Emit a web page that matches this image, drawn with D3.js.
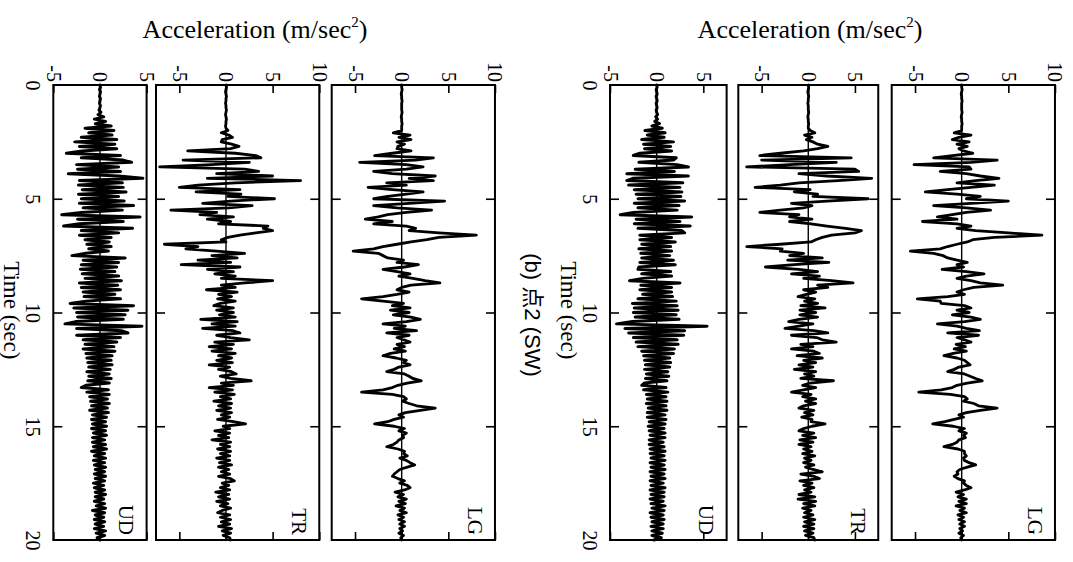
<!DOCTYPE html>
<html><head><meta charset="utf-8">
<script src="https://cdn.jsdelivr.net/npm/d3@7"></script>
<style>body{margin:0;background:#fff}</style>
</head><body>
<svg id="chart" width="1073" height="562"></svg>
<script>
// ---------- data ----------
const components = ["UD", "TR", "LG"];
const timeTickValues = [0, 5, 10, 15, 20];
const timeInnerTicks = [5, 10, 15];
const accTickValues = [-5, 0, 5, 10];
const sampleStep = 0.1; // s
const domainsLeft = [[-5, 5], [-7.5, 10], [-7.5, 10]];
const domainsRight = [[-5, 7.5], [-7.5, 7.5], [-7.5, 10]];
const accTitle = "Acceleration (m/sec";
const timeTitle = "Time (sec)";
const caption = "(b) 点2 (SW)";

const leftUD = [0,0.05,-0.05,0.05,0,-0.05,0.05,0,-0.05,0.05,
0,-0.1,0.1,-0.2,0.4,-0.6,0.6,-0.5,1.2,-1.6,
1.5,-1.2,1.3,-2.0,1.8,-2.7,1.6,-2.2,1.8,-1.9,
-3.6,2.2,-2.0,2.5,3.4,-2.5,2.0,-2.4,2.2,-3.4,
2.0,4.6,-2.2,2.4,-2.3,2.5,-1.9,2.8,-2.3,2.0,
-2.0,2.6,-2.2,3.6,-1.8,2.4,-2.0,-4.1,4.3,-2.4,
2.5,-2.2,-3.9,3.5,-2.0,2.0,-2.2,1.2,-1.6,1.0,
-1.4,1.2,-1.2,0.9,-1.5,-3.0,2.7,-1.8,2.0,-2.0,
1.8,-2.1,1.6,-1.9,2.0,-1.6,2.3,-2.2,1.9,-2.0,
2.2,-1.8,1.6,-1.7,2.2,-1.5,-3.2,3.6,-2.8,3.0,
-2.5,2.7,-2.4,2.5,-2.6,-3.75,4.5,-2.5,2.3,3.0,
-2.5,2.2,-1.8,1.8,-1.6,1.5,-1.8,1.6,-1.5,1.3,
-1.4,1.2,-1.3,1.3,-1.2,1.1,-1.4,1.0,-1.2,1.2,
-1.3,1.0,-1.5,-2.0,0.9,-1.4,1.0,-1.1,0.8,-1.0,
1.0,-0.9,0.8,-1.1,0.9,-0.8,0.7,-0.9,0.6,-0.8,
0.7,-0.9,0.6,-0.7,0.7,-0.8,0.5,-0.8,0.6,-0.7,
0.7,-0.9,0.5,-0.6,0.6,-0.7,0.5,-0.6,0.6,-0.5,
0.5,-0.6,0.6,-0.5,0.5,-0.7,0.4,-0.6,0.5,-0.5,
0.6,-0.5,0.4,-0.6,0.5,-0.4,0.6,-0.8,0.5,-0.5,
0.4,-0.6,0.5,-0.5,0.4,-0.6,0.6,-0.4,0.5,-0.3,
0];

const leftTR = [0,0.05,0,-0.05,0,0.05,0,0,-0.05,0,
0,0.05,0,-0.05,0,0.05,0,0,-0.05,0,
0.2,-0.5,0.3,0.7,-0.4,-0.5,0.6,1.4,0.5,-4.1,
1.0,3.2,3.75,-4.6,2.5,-1.5,-7.1,2.0,3.5,-1.0,
5.0,-2.0,8.0,1.0,-3.0,-5.0,1.5,-3.2,1.6,0.2,
5.2,0.5,-2.5,2.8,0.3,-5.9,-1.0,-2.8,0.8,-2.0,
0.5,-0.8,4.5,4.0,5.0,3.2,1.5,0.2,-0.5,0,
-6.6,-3.0,-4.3,-1.0,2.0,-1.5,1.2,-3.0,0.5,-4.8,
1.5,-2.0,0.8,-1.2,1.0,-0.5,5.0,2.0,-0.5,1.0,
-2.1,1.2,-0.8,0.6,-0.9,1.0,-0.6,-1.3,0.8,-1.0,
0.8,-0.7,1.0,-2.7,1.2,-1.5,1.0,-2.5,0.8,1.5,
-1.0,0.5,2.5,-1.2,0.8,-1.8,0.6,-1.5,1.0,-0.8,
0.6,-1.0,0.7,-1.8,0.4,-0.8,0.6,1.1,-0.6,0.5,
2.7,-0.5,0.8,-1.8,0.7,-1.2,0.9,-0.6,0.5,-1.3,
0.6,-0.8,0.5,-1.0,0.6,-0.5,0.4,-0.9,0.8,2.1,
-0.3,0.4,-1.2,0.4,-0.8,0.3,-1.5,0.5,-0.6,0.4,
-0.9,0.5,-0.6,0.4,-1.0,0.4,-0.7,0.6,-0.8,0.3,
-0.5,0.4,-0.8,0.5,0.9,-0.4,0.3,-0.6,0.4,-1.1,
0.3,-0.8,0.4,-1.0,0.2,-0.6,0.5,-0.4,-0.9,0.4,
-0.6,0.5,-0.5,0.4,-0.8,0.6,-0.4,0.5,-0.3,0.4,
0.5];

const leftLG = [0,0,0.05,0,-0.05,0,0,0.05,0,0,
0,0,0.05,0,-0.05,0,0,0.05,0,0,
0,-0.9,0.9,-0.3,1.0,-0.5,0.3,-0.4,-0.5,1.0,
-1.0,-2.9,3.4,1.5,-4.5,0.5,2.3,0.5,-3.0,-1.0,
3.6,0.8,3.4,-1.6,0.5,-3.6,-1.0,2.3,0.5,-1.5,
-3.0,4.6,0.8,-3.0,-0.5,3.2,0.5,-1.5,-2.5,-3.9,
-1.0,-3.0,0.5,1.5,0.8,4.0,8.0,4.0,2.7,1.0,
-0.5,-2.0,-3.0,-5.2,-2.5,-2.0,-1.5,0.2,-0.5,1.8,
0.3,-2.0,-0.5,0.9,-0.3,1.2,2.5,4.1,1.0,0,
-0.5,0.8,-0.5,-2.0,-4.3,-2.0,0.2,-1.0,0.9,-1.2,
0.8,-0.9,1.0,2.0,0.5,-2.0,0.4,-0.8,1.6,-1.6,
0.8,-0.5,0.2,0.9,-0.5,0.3,-0.8,0.4,-1.2,-2.0,
-0.6,0.5,0.2,0.9,-0.3,-0.8,-1.6,0.3,0.8,1.2,
2.1,0.6,-0.4,-1.0,-2.0,-4.3,-1.0,0.2,0.5,0.1,
0.8,1.6,3.6,2.0,0.4,-0.3,0.2,-0.8,-1.5,-2.9,
-0.8,0.3,-0.3,0.5,0.1,0.2,-0.3,-0.5,-0.9,-1.6,
-0.4,0.3,0.2,0.6,-0.2,0.5,0.9,1.4,0.6,-0.2,
-0.5,-0.8,-1.0,-0.4,0.3,-0.2,0.6,0.9,0.3,-0.7,
0.2,-0.4,0.5,-0.3,0.4,-0.6,0.3,-0.2,0.5,-0.4,
0.2,-0.3,0.3,-0.2,0.3,-0.2,0.1,-0.3,0.2,-0.1,
0];

const rightUD = [0,0.05,-0.05,0,0.05,-0.05,0,0.05,-0.05,0,
0.05,-0.05,0,0.1,-0.1,0.1,-0.2,0.3,-0.5,0.6,
-1.25,0.9,-1.0,0.8,-1.6,1.8,-1.4,1.5,-1.3,1.6,
-1.8,-2.5,2.1,1.8,-1.9,2.2,3.4,-2.3,1.9,-3.2,
3.4,-2.5,-3.2,2.8,-3.0,2.5,-2.4,2.7,-2.2,2.6,
-2.0,3.0,-2.4,2.4,-2.0,2.2,-2.5,-3.9,3.75,-2.2,
2.5,-2.4,3.6,-2.0,2.7,3.0,-1.8,1.6,-1.8,2.0,
-1.6,1.5,-1.9,1.6,-1.7,1.4,-1.6,1.8,-1.8,2.0,
-1.9,-2.0,1.5,-1.6,1.6,-1.5,-2.9,2.5,-1.7,1.6,
-1.8,1.6,-1.5,1.7,-2.0,2.1,-2.6,2.2,-2.4,2.3,
-2.5,2.1,-2.3,2.4,-2.6,-4.3,5.4,-3.4,3.0,-3.0,
2.9,-2.5,2.2,-2.2,2.3,-2.0,1.9,-1.6,1.8,-1.4,
1.4,-1.3,1.5,-1.2,1.4,-1.3,1.2,-1.1,1.3,-1.2,
1.1,-1.3,-1.6,1.0,-1.4,1.2,-1.1,1.0,-1.0,1.1,
-1.1,1.0,-0.9,1.1,-1.0,0.9,-1.0,1.0,-0.8,0.9,
-0.9,0.8,-0.8,0.9,-0.7,0.9,-0.8,0.7,-0.8,0.8,
-0.7,0.9,-0.7,0.8,-0.6,0.9,-0.7,0.8,-0.6,0.9,
-0.7,0.8,-0.6,0.9,-0.7,0.7,-0.6,0.9,-0.7,0.8,
-0.6,0.8,-0.7,0.7,-0.6,0.9,-0.5,0.8,-0.7,0.7,
-0.6,0.8,-0.5,0.7,-0.6,0.7,-0.5,0.6,-0.5,0.5,
-0.3];

const rightTR = [0,0.05,0,-0.05,0,0.05,0,0,-0.05,0,
0,0,0.05,0,-0.05,0,0,0.05,0,0,
0.2,0.7,-0.4,0.4,-0.2,0.5,1.0,2.1,1.0,-0.5,
-3.0,-5.2,4.6,-5.0,3.0,-2.0,-6.6,5.0,5.4,-1.0,
2.0,6.8,3.2,-1.0,-3.0,-5.7,0.2,-1.5,1.0,0.5,
6.4,2.0,-1.8,0.4,-0.5,-3.0,-5.2,-1.0,-2.0,0.4,
-2.0,0.3,2.0,4.0,5.7,5.0,2.5,1.5,0.8,0.3,
-3.0,-6.6,-2.8,-3.0,-0.5,-2.0,1.5,-2.2,2.2,-1.5,
-4.6,-1.0,1.0,-1.8,1.2,-0.5,2.5,4.8,1.0,2.1,
-0.5,0.8,-0.2,-1.1,0.7,-0.4,1.0,-0.8,1.8,-0.9,
0.8,-0.9,1.0,-1.0,-2.1,0.5,-1.0,-2.5,0.6,2.1,
-1.8,0.9,1.5,3.0,-0.8,0.5,-1.8,0.6,1.2,-1.2,
1.5,-0.5,0.8,-1.0,0.5,-1.5,0.8,-0.4,0.6,-0.8,
2.7,0.2,-0.6,0.8,-0.5,-1.8,0.3,-0.6,0.8,-0.3,
0.8,-0.5,-1.0,0.6,-0.4,0.5,-0.7,0.4,0.3,1.8,
0.4,-0.5,-1.0,0.6,-0.6,0.8,-0.9,0.5,-1.0,0.3,
-0.5,0.4,-0.6,0.7,-0.4,0.3,-0.5,0.6,-0.3,0.5,
1.5,-0.8,0.6,1.2,-0.9,0.4,-0.5,0.6,-0.4,0.3,
-1.0,0.7,-1.1,0.8,-0.5,0.7,-0.6,0.3,-0.4,0.5,
-0.5,0.7,-0.4,0.6,-0.5,0.6,-0.4,0.5,-0.3,0.6,
0.7];

const rightLG = [0,0,0.05,0,-0.05,0,0,0.05,0,0,
0,0,0.05,0,-0.05,0,0,0.05,0,0,
0,-0.8,1.0,-0.3,-1.0,0.8,-0.5,0.6,-0.3,0.2,
1.2,-1.0,-3.0,3.8,1.0,-5.1,0.8,1.0,-2.3,0.5,
2.0,4.0,1.5,-0.5,3.5,1.0,-1.5,-3.9,-0.5,2.0,
0.5,5.0,1.0,-3.0,0.5,3.1,0.5,-1.0,-2.6,-0.5,
-4.2,-0.5,1.0,-0.5,1.5,5.0,8.6,3.5,1.2,0.6,
-0.5,-1.5,-2.3,-5.5,-3.0,-2.0,-1.5,-0.5,0.6,-0.5,
0.2,-2.1,0.5,2.4,0.5,-0.5,1.0,2.0,4.4,1.3,
0.2,-0.5,0.3,-1.5,-4.75,-2.3,-2.2,0.3,1.0,-0.5,
0.8,-1.0,1.0,2.0,0.3,-2.6,-0.5,0.5,1.9,-1.5,
1.8,-0.5,0.3,1.0,-0.6,0.4,-0.8,0.5,-0.9,-1.9,
-0.5,0.3,0.6,0.9,-0.3,-0.8,-1.5,0.3,0.9,1.5,
2.2,0.6,-0.5,-1.0,-2.2,-4.6,-1.2,0.3,0.6,0.2,
1.3,1.8,3.8,2.0,0.5,-0.3,0.2,-0.8,-1.8,-3.1,
-0.9,0.3,-0.3,0.5,0.2,0.4,-0.3,-0.5,-1.0,-1.9,
-0.4,0.3,0.3,0.5,0.2,0.3,0.8,1.5,0.6,-0.2,
-0.5,-0.4,-0.8,-0.4,0.3,0.2,0.5,1.0,0.3,-0.6,
0.2,-0.4,0.5,-0.3,0.5,-0.6,0.3,-0.2,0.5,-0.4,
0.2,-0.3,0.3,-0.2,0.3,-0.2,0.1,-0.3,0.2,-0.1,
0];

// ---------- layout ----------
(function () {
const svg = d3.select("#chart");
const pxPerUnit = 9.33;
const topY = 85, bottomY = 540;
const serif = "'Liberation Serif','Times New Roman',serif";
const yScale = d3.scaleLinear().domain([0, 20]).range([topY, bottomY]);
const plainFmt = d => String(d);

const groups = [
  { lefts: [53.3, 156, 331.7], domains: domainsLeft, series: [leftUD, leftTR, leftLG], titleX: 255 },
  { lefts: [610, 738.3, 891.7], domains: domainsRight, series: [rightUD, rightTR, rightLG], titleX: 810 }
];

function rotateLabels(sel, anchor, dx, dyPx) {
  sel.selectAll("text")
    .attr("x", null).attr("y", null).attr("dy", null)
    .attr("transform", `translate(${dx},${dyPx}) rotate(90)`)
    .attr("text-anchor", anchor)
    .attr("dy", "0.35em")
    .attr("fill", "#000")
    .style("font-family", serif);
}

groups.forEach(g => {
  const t = svg.append("text").attr("x", g.titleX).attr("y", 38)
    .attr("text-anchor", "middle").style("font-family", serif).style("font-size", "26px")
    .text(accTitle);
  t.append("tspan").attr("dy", -11).style("font-size", "15px").text("2");
  t.append("tspan").attr("dy", 11).text(")");

  g.domains.forEach((dom, i) => {
    const L = g.lefts[i];
    const R = L + (dom[1] - dom[0]) * pxPerUnit;
    const x = d3.scaleLinear().domain(dom).range([L, R]);
    const ticks = accTickValues.filter(v => v >= dom[0] - 1e-6 && v <= dom[1] + 1e-6);
    const data = g.series[i].map((v, k) => ({ t: k * sampleStep, v }));
    const p = svg.append("g");

    p.append("line").attr("x1", x(0)).attr("x2", x(0)).attr("y1", topY).attr("y2", bottomY)
      .attr("stroke", "#000").attr("stroke-width", 1.4);

    p.append("path").datum(data)
      .attr("d", d3.line().x(d => x(d.v)).y(d => yScale(d.t)))
      .attr("fill", "none").attr("stroke", "#000").attr("stroke-width", i === 0 ? 3.0 : 2.8)
      .attr("stroke-linejoin", "round").attr("stroke-linecap", "round");

    const ax = p.append("g").attr("transform", `translate(0,${topY})`)
      .call(d3.axisTop(x).tickValues(ticks).tickSizeInner(-8).tickSizeOuter(0).tickFormat(plainFmt));
    ax.select(".domain").remove();
    ax.selectAll("line").attr("stroke-width", 1.6);
    ax.selectAll("text").style("font-size", "20px");
    rotateLabels(ax, "end", 0, -3);

    const bx = p.append("g").attr("transform", `translate(0,${bottomY})`)
      .call(d3.axisBottom(x).tickValues(ticks).tickSizeInner(-8).tickSizeOuter(0).tickFormat(""));
    bx.select(".domain").remove();
    bx.selectAll("line").attr("stroke-width", 1.6);

    const lx = p.append("g").attr("transform", `translate(${L},0)`)
      .call(d3.axisLeft(yScale).tickValues(timeInnerTicks).tickSizeInner(-9).tickSizeOuter(0).tickFormat(""));
    lx.select(".domain").remove();
    lx.selectAll("line").attr("stroke-width", 1.6);
    const rx = p.append("g").attr("transform", `translate(${R},0)`)
      .call(d3.axisRight(yScale).tickValues(timeInnerTicks).tickSizeInner(-9).tickSizeOuter(0).tickFormat(""));
    rx.select(".domain").remove();
    rx.selectAll("line").attr("stroke-width", 1.6);

    if (i === 0) {
      const tl = p.append("g").attr("transform", `translate(${L},0)`)
        .call(d3.axisLeft(yScale).tickValues(timeTickValues).tickSize(0).tickFormat(plainFmt));
      tl.select(".domain").remove();
      tl.selectAll("text").style("font-size", "20px");
      rotateLabels(tl, "middle", -20, 0);
      svg.append("text")
        .attr("transform", `translate(${L - 41},${yScale(9.9)}) rotate(90)`)
        .attr("text-anchor", "middle").attr("dy", "0.35em")
        .style("font-family", serif).style("font-size", "23px")
        .text(timeTitle);
    }

    p.append("rect").attr("x", L).attr("y", topY).attr("width", R - L).attr("height", bottomY - topY)
      .attr("fill", "none").attr("stroke", "#000").attr("stroke-width", 2);

    p.append("text")
      .attr("transform", `translate(${R - 20},535) rotate(90)`)
      .attr("text-anchor", "end").attr("dy", "0.35em")
      .style("font-family", serif).style("font-size", "21px")
      .text(components[i]);
  });
});

svg.append("text")
  .attr("transform", `translate(533,315) rotate(90)`)
  .attr("text-anchor", "middle").attr("dy", "0.35em")
  .style("font-family", "'Liberation Sans','Noto Sans CJK SC',sans-serif").style("font-size", "22px")
  .text(caption);
})();
</script>
</body></html>
